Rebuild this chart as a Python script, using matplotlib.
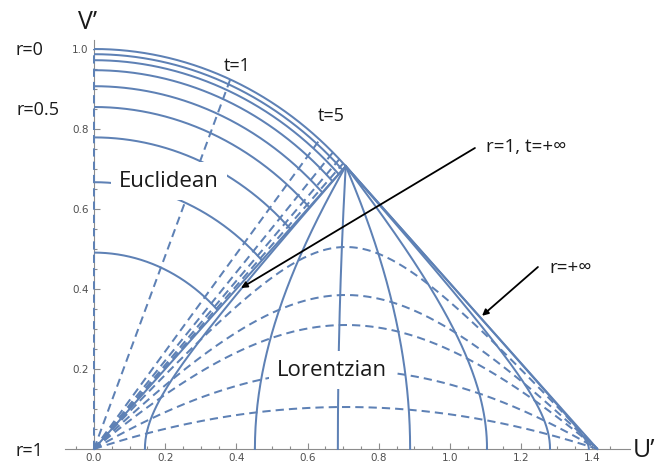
import numpy as np
import matplotlib.pyplot as plt
from matplotlib.ticker import FixedLocator

# Euclidean part: radius of each r = const circle on the V' axis, and t of each dashed ray
euclid_r_radius = [1.0, 0.987, 0.972, 0.947, 0.907, 0.855, 0.779, 0.667, 0.491]
euclid_t = [0, 1, 5, 10, 20, 50]

# Lorentzian part: foot of each r = const curve on the U' axis, top of each t = const curve
lorentz_r_foot = [0.143, 0.452, 0.685, 0.888, 1.104, 1.281, 1.39]
lorentz_t_peak = [0.105, 0.1975, 0.31, 0.385, 0.505]

x_ticks = [0.0, 0.2, 0.4, 0.6, 0.8, 1.0, 1.2, 1.4]
y_ticks = [0.2, 0.4, 0.6, 0.8, 1.0]

blue = '#5e81b5'
lw = 1.45
dash = (4.1, 2.5)
s2 = np.sqrt(2)
fam = ['Open Sans', 'DejaVu Sans']


def lorentz(s, k):
    # null-type coordinates along the two edges of the Lorentzian triangle
    p = (1 + np.tanh(s + k)) / 2
    q = (1 + np.tanh(s - k)) / 2
    return (p + q) / s2, (p - q) / s2


fig = plt.figure(figsize=(6.72, 4.69), dpi=100)
ax = fig.add_axes([0, 0, 1, 1])
ax.set_xlim(-94 / 356, (672 - 94) / 356)
ax.set_ylim(-20 / 400, 449 / 400)

# Euclidean circles
th = np.linspace(0, np.pi / 4, 300)
for R in euclid_r_radius:
    ax.plot(R * np.sin(th), R * np.cos(th), color=blue, lw=lw, solid_capstyle='butt')

# Euclidean rays
rho = np.linspace(0, 1, 50)
for t in euclid_t:
    a = np.arctan(t) / 2
    ax.plot(rho * np.sin(a), rho * np.cos(a), color=blue, lw=lw, dashes=dash)

# r = 1 diagonal and r = +inf edge
ax.plot(rho * np.sin(np.pi / 4), rho * np.cos(np.pi / 4), color=blue, lw=lw)
q = np.linspace(0, 1, 50)
ax.plot((1 + q) / s2, (1 - q) / s2, color=blue, lw=lw)

# Lorentzian r = const curves
k = np.linspace(0, 9, 600)
for u0 in lorentz_r_foot:
    s = np.arctanh(2 * u0 / s2 - 1)
    U, V = lorentz(s, k)
    ax.plot(U, V, color=blue, lw=lw)

# Lorentzian t = const curves
sv = np.linspace(-9, 9, 1200)
for h in lorentz_t_peak:
    U, V = lorentz(sv, np.arctanh(h * s2))
    ax.plot(U, V, color=blue, lw=lw, dashes=dash)

# axes in Mathematica style
for side in ['top', 'right']:
    ax.spines[side].set_visible(False)
ax.spines['left'].set_position(('data', 0))
ax.spines['bottom'].set_position(('data', 0))
ax.spines['left'].set_bounds(0, 1.022)
ax.spines['bottom'].set_bounds(-0.081, 1.506)
for side in ['left', 'bottom']:
    ax.spines[side].set_color('#8c8c8c')
    ax.spines[side].set_linewidth(0.8)
    ax.spines[side].set_zorder(0.5)

ax.xaxis.set_major_locator(FixedLocator(x_ticks))
ax.yaxis.set_major_locator(FixedLocator(y_ticks))
ax.xaxis.set_minor_locator(FixedLocator(np.arange(-0.05, 1.46, 0.05)))
ax.yaxis.set_minor_locator(FixedLocator(np.arange(0.05, 1.01, 0.05)))
ax.set_xticklabels(['%.1f' % v for v in x_ticks])
ax.set_yticklabels(['%.1f' % v for v in y_ticks])
ax.tick_params(which='both', direction='in', color='#8c8c8c', width=0.8,
               labelsize=7.5, labelcolor='#505050')
ax.tick_params(which='major', length=4)
ax.tick_params(which='minor', length=2.2)
ax.tick_params(axis='x', pad=3)
ax.tick_params(axis='y', pad=4)

txt = dict(color='#1a1a1a', family=fam, ha='center', va='center', zorder=5)
ax.text(-0.017, 1.0675, 'V’', fontsize=18, **txt)
ax.text(1.545, -0.003, 'U’', fontsize=18, **txt)
ax.text(-0.18, 0.998, 'r=0', fontsize=13, **txt)
ax.text(-0.157, 0.848, 'r=0.5', fontsize=13, **txt)
ax.text(-0.18, -0.005, 'r=1', fontsize=13, **txt)
ax.text(0.402, 0.958, 't=1', fontsize=13, **txt)
ax.text(0.666, 0.833, 't=5', fontsize=13, **txt)
box = dict(boxstyle='square,pad=0.38', fc='white', ec='none')
ax.text(0.211, 0.67, 'Euclidean', fontsize=16, bbox=box, **txt)
ax.text(0.669, 0.1975, 'Lorentzian', fontsize=16, bbox=box, **txt)
ax.text(1.214, 0.755, 'r=1, t=+∞', fontsize=13.5, **txt)
ax.text(1.34, 0.4525, 'r=+∞', fontsize=13.5, **txt)

arrow = dict(arrowstyle='-|>', color='black', lw=1.3, mutation_scale=9,
             shrinkA=0, shrinkB=0)
ax.annotate('', xy=(0.413, 0.4025), xytext=(1.07, 0.7525), arrowprops=arrow, zorder=6)
ax.annotate('', xy=(1.09, 0.333), xytext=(1.247, 0.455), arrowprops=arrow, zorder=6)

fig.savefig('out.png', dpi=100)
